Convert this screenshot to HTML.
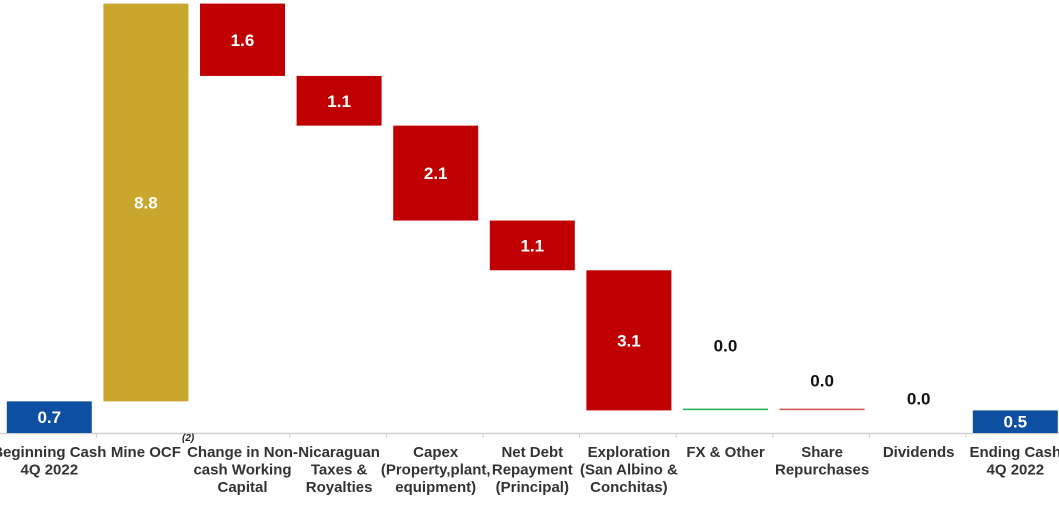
<!DOCTYPE html>
<html><head><meta charset="utf-8"><style>
html,body{margin:0;padding:0;background:#fff;}
svg{display:block;font-family:"Liberation Sans Narrow","Liberation Sans",sans-serif;}
</style></head><body>
<svg id="chart" width="1059" height="509" viewBox="0 0 1059 509"></svg>
<script>
const categories=[["Beginning Cash","4Q 2022"],["Mine OCF"],["Change in Non-","cash Working","Capital"],["Nicaraguan","Taxes &","Royalties"],["Capex","(Property,plant,","equipment)"],["Net Debt","Repayment","(Principal)"],["Exploration","(San Albino &","Conchitas)"],["FX & Other"],["Share","Repurchases"],["Dividends"],["Ending Cash","4Q 2022"]];
const values=[0.7,8.8,-1.6,-1.1,-2.1,-1.1,-3.1,0.0,0.0,0.0,0.5];
const kinds=["total","up","down","down","down","down","down","zeroUp","zeroDown","none","total"];
const valueLabels=["0.7","8.8","1.6","1.1","2.1","1.1","3.1","0.0","0.0","0.0","0.5"];

const NS="http://www.w3.org/2000/svg";
const svg=document.getElementById('chart');
const base=433, ppu=45.2, slot=96.6, bw=85;
const y=v=>base-v*ppu;
const xc=i=>i*slot+slot/2+1;
const colors={total:"#0d4fa0",up:"#c9a72f",down:"#c00000",zeroUp:"#22b04a",zeroDown:"#d05050"};
const lift=[0,0,0,0,0,0,0,53,18,0,0];
function mk(tag,attrs){const e=document.createElementNS(NS,tag);for(const k in attrs)e.setAttribute(k,attrs[k]);svg.appendChild(e);return e;}

let ax=mk('line',{x1:0,x2:1059,y1:base+0.5,y2:base+0.5,stroke:"#d0d0d0","stroke-width":1.5});


for(let i=1;i<categories.length;i++){
  const t=mk('line',{x1:i*slot,x2:i*slot,y1:base,y2:base+5,stroke:"#d0d0d0","stroke-width":1});
  
  
}
let cum=0;
categories.forEach((cat,i)=>{
  const v=values[i],k=kinds[i];
  let lo,hi;
  if(k==="total"){lo=0;hi=v;cum=v;}
  else if(k==="none"){lo=hi=cum;}
  else {const nc=cum+v;lo=Math.min(cum,nc);hi=Math.max(cum,nc);cum=nc;}
  const cx=xc(i);
  if(k==="zeroUp"||k==="zeroDown"){
    const l=mk('line',{x1:cx-bw/2,x2:cx+bw/2,y1:y(hi)-1,y2:y(hi)-1,stroke:colors[k],"stroke-width":1.5});
    
    
  } else if(k!=="none"){
    const r=mk('rect',{x:cx-bw/2,y:y(hi),width:bw,height:y(lo)-y(hi),fill:colors[k]});
    
    
  }
  const inside=(k!=="none"&&k!=="zeroUp"&&k!=="zeroDown");
  const ty=inside?(y(hi)+y(lo))/2+6:y(hi)-6-lift[i];
  const t=mk('text',{x:cx,y:ty,"text-anchor":"middle","font-size":17,"font-weight":"bold",fill:inside?"#fff":"#111"});
  t.textContent=valueLabels[i];
  
  
  cat.forEach((line,j)=>{
    const c=mk('text',{x:cx,y:457+j*17.5,"text-anchor":"middle","font-size":15,"font-weight":"bold",fill:"#333"});
    c.textContent=line;
    
    
  });
});
const fn=mk('text',{x:182,y:441,"font-size":10,"font-weight":"bold","font-style":"italic",fill:"#222"});
fn.textContent="(2)";


</script>
</body></html>
